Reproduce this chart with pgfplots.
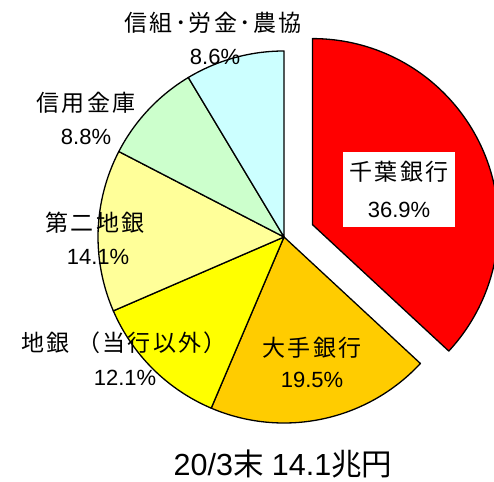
\documentclass[border=0pt]{standalone}
\usepackage{pgfplots}
\pgfplotsset{compat=1.18}
\usepackage{pgfplotstable}
\usepackage{fontspec}
\setmainfont{Liberation Sans}
\newfontfamily\jp[LetterSpace=10]{Noto Sans CJK JP}
\newfontfamily\jpt{Noto Sans CJK JP}
\definecolor{c0}{HTML}{FF0000}
\definecolor{c1}{HTML}{FFCC00}
\definecolor{c2}{HTML}{FFFF00}
\definecolor{c3}{HTML}{FFFF99}
\definecolor{c4}{HTML}{CCFFCC}
\definecolor{c5}{HTML}{CCFFFF}
% share in %, clockwise from 12 o'clock
\pgfplotstableread{
idx pct
0 36.9
1 19.5
2 12.1
3 14.1
4 8.8
5 8.6
}\piedata
\begin{document}
\begin{tikzpicture}
\begin{axis}[
  width=494pt, height=481pt, scale only axis,
  xmin=0, xmax=494, ymin=0, ymax=481,
  hide axis, clip=false,
]
\addplot[draw=none] coordinates {(0,0) (494,481)};
\pgfplotsextra{
  \def\startangle{90}
  \pgfplotsforeachungrouped \i in {0,...,5}{
    \pgfplotstablegetelem{\i}{pct}\of\piedata
    \let\p\pgfplotsretval
    \pgfmathsetmacro\endangle{\startangle-3.6*\p}
    \pgfmathsetmacro\midangle{(\startangle+\endangle)/2}
    \pgfmathsetmacro\off{\i==0 ? 31 : 0}
    \filldraw[fill=c\i, draw=black, line width=1.3pt, line join=round, shift={(\midangle:\off pt)}]
      (axis cs:284,244) -- ++(\startangle:186pt) arc[start angle=\startangle, end angle=\endangle, radius=186pt] -- cycle;
    \global\let\startangle\endangle
  }
}
\node[fill=white, minimum width=112pt, minimum height=75pt] at (axis cs:399,291) {};
\def\fs{\fontsize{22}{26}\selectfont}
\def\fj{\fontsize{23}{26}\selectfont\jp}
\node at (axis cs:399,309) {\fj 千葉銀行};
\node at (axis cs:399,271) {\fs 36.9\%};
\node at (axis cs:312,133) {\fj 大手銀行};
\node at (axis cs:312,101) {\fs 19.5\%};
\node at (axis cs:124,138) {\fj 地銀 （当行以外）};
\node at (axis cs:125,103) {\fs 12.1\%};
\node at (axis cs:95,258) {\fj 第二地銀};
\node at (axis cs:98,224) {\fs 14.1\%};
\node at (axis cs:86,378) {\fj 信用金庫};
\node at (axis cs:86,344) {\fs 8.8\%};
\node at (axis cs:213,458) {\fj 信組･労金･農協};
\node at (axis cs:215,424) {\fs 8.6\%};
\node at (axis cs:283,17) {\fontsize{30.5}{33}\selectfont 20/3{\jpt 末} 14.1{\jpt 兆円}};
\end{axis}
\pgfresetboundingbox
\path (current axis.south west) rectangle (current axis.north east);
\end{tikzpicture}
\end{document}
